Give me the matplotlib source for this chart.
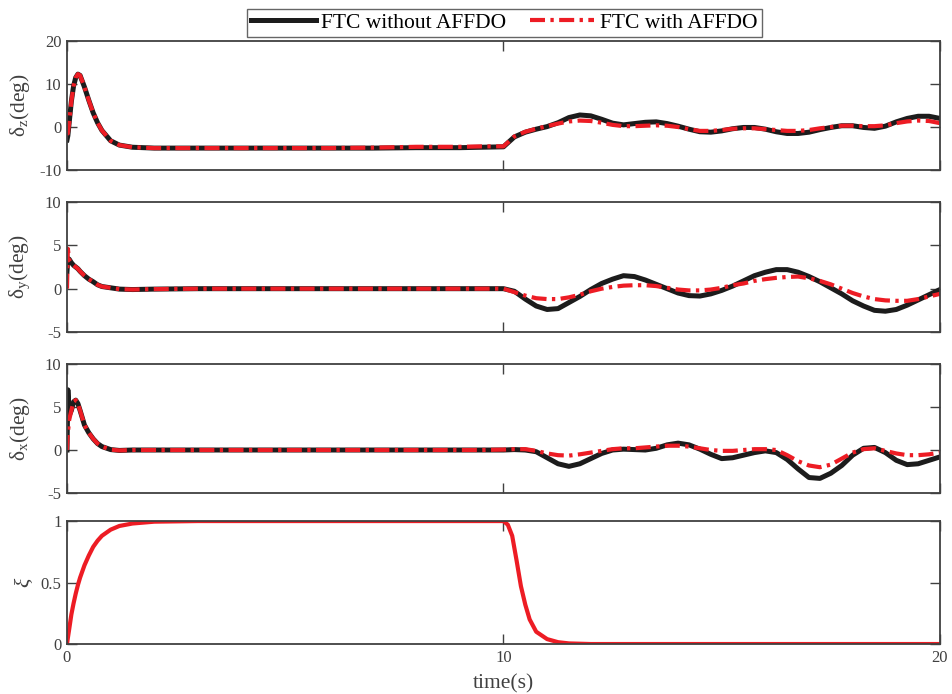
import numpy as np
import matplotlib
matplotlib.use("Agg")
import matplotlib.pyplot as plt

plt.rcParams['font.family'] = ['Liberation Serif', 'DejaVu Serif']
plt.rcParams['mathtext.fontset'] = 'custom'
plt.rcParams['mathtext.rm'] = 'Liberation Serif'
plt.rcParams['mathtext.it'] = 'Liberation Serif:italic'
plt.rcParams['axes.unicode_minus'] = False

# time samples (s) shared by the three deflection panels
t_pts = [0, 0.02, 0.05, 0.1, 0.15, 0.2, 0.25, 0.3, 0.4, 0.5, 0.6, 0.7, 0.8,
         1.0, 1.2, 1.5, 2, 3, 4, 5, 6, 7, 8, 9, 9.5,
         10.0, 10.25, 10.5, 10.75, 11.0, 11.25, 11.5, 11.75, 12.0, 12.25, 12.5, 12.75,
         13.0, 13.25, 13.5, 13.75, 14.0, 14.25, 14.5, 14.75, 15.0, 15.25, 15.5, 15.75,
         16.0, 16.25, 16.5, 16.75, 17.0, 17.25, 17.5, 17.75, 18.0, 18.25, 18.5, 18.75,
         19.0, 19.25, 19.5, 19.75, 20.0]

# delta_z (deg)
dz_without = [-3.0, -2.0, 1.0, 6.0, 9.5, 11.5, 12.3, 12.0, 9.3, 6.2, 3.3, 1.0, -0.8,
              -3.2, -4.2, -4.7, -4.9, -4.9, -4.9, -4.9, -4.9, -4.9, -4.8, -4.8, -4.7,
              -4.6, -2.3, -1.2, -0.5, 0.1, 1.0, 2.2, 2.8, 2.6, 1.8, 0.9, 0.5,
              0.8, 1.1, 1.2, 0.8, 0.2, -0.5, -1.1, -1.2, -0.9, -0.4, -0.1, -0.1,
              -0.5, -1.1, -1.5, -1.5, -1.2, -0.6, -0.1, 0.3, 0.3, -0.1, -0.3, 0.2,
              1.2, 2.0, 2.5, 2.5, 2.0]
dz_with = [-1.0, -1.5, 1.0, 6.0, 9.5, 11.5, 12.3, 12.0, 9.3, 6.2, 3.3, 1.0, -0.8,
           -3.2, -4.2, -4.7, -4.9, -4.9, -4.9, -4.9, -4.9, -4.8, -4.6, -4.6, -4.5,
           -4.5, -2.2, -1.1, -0.4, 0.2, 0.8, 1.3, 1.5, 1.4, 1.0, 0.5, 0.2,
           0.2, 0.3, 0.4, 0.3, 0.0, -0.5, -0.9, -0.9, -0.7, -0.4, -0.3, -0.3,
           -0.5, -0.7, -0.9, -0.9, -0.7, -0.3, 0.0, 0.3, 0.3, 0.2, 0.2, 0.4,
           0.9, 1.3, 1.5, 1.4, 0.9]

# delta_y (deg)
dy_without = [2.0, 3.5, 3.4, 3.0, 2.7, 2.5, 2.3, 2.0, 1.5, 1.1, 0.8, 0.45, 0.25,
              0.1, -0.05, -0.1, -0.05, 0.0, 0.0, 0.0, 0.0, 0.0, 0.0, 0.0, 0.0,
              0.0, -0.3, -1.2, -2.0, -2.4, -2.3, -1.6, -0.9, -0.1, 0.6, 1.1, 1.5,
              1.4, 1.0, 0.5, 0.0, -0.5, -0.8, -0.85, -0.6, -0.2, 0.3, 0.9, 1.5,
              1.9, 2.2, 2.2, 1.9, 1.4, 0.8, 0.1, -0.6, -1.4, -2.0, -2.5, -2.6,
              -2.4, -1.9, -1.3, -0.7, -0.1]
dy_with = [0.0, 4.6, 3.3, 3.0, 2.7, 2.5, 2.3, 2.0, 1.5, 1.1, 0.8, 0.45, 0.25,
           0.1, -0.05, -0.1, -0.05, 0.0, 0.0, 0.0, 0.0, 0.0, 0.0, 0.0, 0.0,
           0.0, -0.4, -0.8, -1.1, -1.2, -1.2, -1.0, -0.7, -0.3, 0.0, 0.2, 0.35,
           0.4, 0.4, 0.3, 0.1, -0.1, -0.2, -0.2, -0.1, 0.1, 0.4, 0.6, 0.9,
           1.1, 1.25, 1.35, 1.4, 1.2, 0.9, 0.5, 0.0, -0.5, -0.9, -1.2, -1.35,
           -1.4, -1.4, -1.2, -0.9, -0.6]

# delta_x (deg)
dx_without = [0.0, 7.0, 4.0, 4.6, 5.6, 5.8, 5.4, 4.6, 2.9, 2.0, 1.3, 0.75, 0.4,
              0.05, -0.05, 0.0, 0.0, 0.0, 0.0, 0.0, 0.0, 0.0, 0.0, 0.0, 0.0,
              0.0, 0.05, 0.0, -0.2, -0.9, -1.6, -1.9, -1.6, -1.0, -0.4, 0.0, 0.1,
              0.05, 0.0, 0.2, 0.6, 0.8, 0.6, 0.1, -0.5, -1.0, -0.9, -0.6, -0.3,
              -0.1, -0.3, -1.1, -2.2, -3.2, -3.3, -2.7, -1.8, -0.6, 0.2, 0.3, -0.3,
              -1.2, -1.7, -1.6, -1.2, -0.8]
dx_with = [0.0, 2.0, 3.5, 4.6, 5.6, 5.8, 5.4, 4.6, 2.9, 2.0, 1.3, 0.75, 0.4,
           0.05, -0.05, 0.0, 0.0, 0.0, 0.0, 0.0, 0.0, 0.0, 0.0, 0.0, 0.0,
           0.05, 0.1, 0.1, -0.1, -0.4, -0.6, -0.65, -0.5, -0.3, -0.1, 0.1, 0.2,
           0.2, 0.3, 0.4, 0.5, 0.5, 0.4, 0.2, 0.0, -0.1, -0.1, 0.0, 0.1,
           0.1, 0.0, -0.6, -1.3, -1.8, -2.0, -1.7, -1.0, -0.3, 0.1, 0.2, -0.1,
           -0.4, -0.6, -0.6, -0.5, -0.3]

# fault indicator xi
t_xi = [0, 0.02, 0.05, 0.1, 0.15, 0.2, 0.25, 0.3, 0.4, 0.5, 0.6, 0.7, 0.8,
        1.0, 1.2, 1.5, 2, 3, 10.0, 10.1, 10.2, 10.3, 10.4, 10.5, 10.6,
        10.75, 11.0, 11.25, 11.5, 12.0, 20.0]
xi_vals = [0.0, 0.05, 0.12, 0.24, 0.33, 0.41, 0.48, 0.54, 0.64, 0.72, 0.79, 0.84, 0.88,
           0.93, 0.96, 0.98, 0.995, 1.0, 1.0, 0.97, 0.88, 0.68, 0.47, 0.32, 0.2,
           0.1, 0.04, 0.015, 0.005, 0.0, 0.0]

panel_ylabels = [r'$\mathrm{\delta}_\mathrm{z}$(deg)', r'$\mathrm{\delta}_\mathrm{y}$(deg)',
                 r'$\mathrm{\delta}_\mathrm{x}$(deg)']
panel_yticks = [[-10, 0, 10, 20], [-5, 0, 5, 10], [-5, 0, 5, 10]]
xticks = [0, 10, 20]

black = '#1c1c1c'
red = '#ed1c24'
gray = '#404040'

fig = plt.figure(figsize=(9.53, 6.94), dpi=100, facecolor='white')
boxes = [(0.0703, 0.755, 0.916, 0.1859),
         (0.0703, 0.5216, 0.916, 0.1873),
         (0.0703, 0.2896, 0.916, 0.1859),
         (0.0703, 0.072, 0.916, 0.1772)]
axes = [fig.add_axes(b) for b in boxes]

series = [(dz_without, dz_with), (dy_without, dy_with), (dx_without, dx_with)]
for ax, (yb, yr), lab, yt in zip(axes[:3], series, panel_ylabels, panel_yticks):
    l1, = ax.plot(t_pts, yb, color=black, lw=3.6, solid_joinstyle='round',
                  label='FTC without AFFDO')
    l2, = ax.plot(t_pts, yr, color=red, lw=3.0, dashes=(3.6, 1.3, 0.8, 1.3),
                  label='FTC with AFFDO')
    ax.set_ylim(yt[0], yt[-1])
    ax.set_yticks(yt)
    ax.set_ylabel(lab, fontsize=15.5, color=gray)
    ax.yaxis.set_label_coords(-0.04, 0.5)
    ax.set_xticklabels([])

ax4 = axes[3]
ax4.plot(t_xi, xi_vals, color=red, lw=3.0, solid_joinstyle='round')
ax4.set_ylim(0, 1)
ax4.set_yticks([0, 0.5, 1])
ax4.set_yticklabels(['0', '0.5', '1'])
ax4.set_ylabel(r'$\xi$', fontsize=15.5, color=gray)
ax4.yaxis.set_label_coords(-0.037, 0.5)
ax4.set_xlabel('time(s)', fontsize=15.5, color=gray, labelpad=6)

for ax in axes:
    ax.set_xlim(0, 20)
    ax.set_xticks(xticks)
    ax.tick_params(direction='in', top=True, right=True, length=7, width=1.0,
                   colors=gray, labelsize=12, pad=4)
    for sp in ax.spines.values():
        sp.set_color(gray)
        sp.set_linewidth(1.3)

fig.legend(handles=[l1, l2], loc='center', bbox_to_anchor=(0.529, 0.967), ncol=2,
           fontsize=15.5, frameon=True, fancybox=False, edgecolor=gray,
           handlelength=3.0, handletextpad=0.25, columnspacing=1.1,
           borderpad=0.2, borderaxespad=0)

fig.savefig('out.png', dpi=100, facecolor='white')
